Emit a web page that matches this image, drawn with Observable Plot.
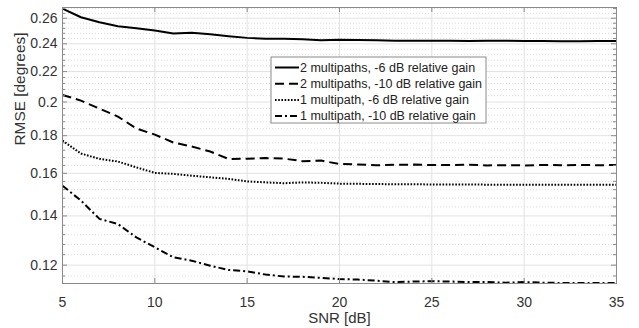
<!DOCTYPE html>
<html><head><meta charset="utf-8">
<script src="https://cdn.jsdelivr.net/npm/d3@7"></script>
<script src="https://cdn.jsdelivr.net/npm/@observablehq/plot@0.6"></script>
<style>
body{margin:0;background:#fff}
#chart{width:639px;height:328px}
</style>
</head><body><div id="chart"></div>
<script>
const snr = [5,6,7,8,9,10,11,12,13,14,15,16,17,18,19,20,21,22,23,24,25,26,27,28,29,30,31,32,33,34,35];
const seriesNames = [
  "2 multipaths, -6 dB relative gain",
  "2 multipaths, -10 dB relative gain",
  "1 multipath, -6 dB relative gain",
  "1 multipath, -10 dB relative gain"
];
const rmse2m6 = [0.2680,0.2608,0.2568,0.2536,0.2520,0.2502,0.2478,0.2484,0.2473,0.2458,0.2445,0.2438,0.2438,0.2435,0.2427,0.2430,0.2428,0.2427,0.2424,0.2424,0.2423,0.2423,0.2421,0.2423,0.2423,0.2421,0.2421,0.2419,0.2419,0.2421,0.2421];
const rmse2m10 = [0.2045,0.2009,0.1959,0.1911,0.1841,0.1806,0.1762,0.1740,0.1713,0.1673,0.1675,0.1678,0.1675,0.1662,0.1665,0.1647,0.1645,0.1641,0.1643,0.1644,0.1642,0.1642,0.1643,0.1640,0.1641,0.1640,0.1642,0.1641,0.1642,0.1641,0.1642];
const rmse1m6 = [0.1772,0.1702,0.1674,0.1660,0.1630,0.1602,0.1597,0.1588,0.1580,0.1572,0.1560,0.1555,0.1551,0.1555,0.1553,0.1549,0.1548,0.1547,0.1546,0.1546,0.1545,0.1545,0.1545,0.1544,0.1544,0.1544,0.1544,0.1543,0.1543,0.1543,0.1543];
const rmse1m10 = [0.1539,0.1469,0.1387,0.1365,0.1309,0.1269,0.1230,0.1217,0.1198,0.1182,0.1177,0.1165,0.1158,0.1157,0.1153,0.1149,0.1147,0.1143,0.1138,0.1140,0.1141,0.1140,0.1138,0.1138,0.1136,0.1138,0.1136,0.1135,0.1135,0.1135,0.1135];

const xTicks = [5,10,15,20,25,30,35];
const xTickLabels = ["5","10","15","20","25","30","35"];
const yTicks = [0.12,0.14,0.16,0.18,0.2,0.22,0.24,0.26];
const yTickLabels = ["0.12","0.14","0.16","0.18","0.2","0.22","0.24","0.26"];
const yMinorTicks = [0.116,0.124,0.128,0.132,0.136,0.144,0.148,0.152,0.156,0.164,0.168,0.172,0.176,0.184,0.188,0.192,0.196,0.204,0.208,0.212,0.216,0.224,0.228,0.232,0.236,0.244,0.248,0.252,0.256,0.264,0.268];
const xLabel = "SNR [dB]";
const yLabel = "RMSE [degrees]";

// styles
const lineDashes = [null, "9,5", "1.6,1.6", "7,3,2,3"];
const W = 639, H = 328, mL = 62, mR = 23, mT = 7, mB = 45;
const plotW = W - mL - mR, plotH = H - mT - mB;
const frameColor = "#8a8a8a";

const seriesValues = [rmse2m6, rmse2m10, rmse1m6, rmse1m10];
const rows = seriesValues.flatMap((vals, k) => snr.map((x, i) => ({x, y: vals[i], k})));

const lineMarks = seriesValues.map((vals, k) =>
  Plot.line(rows.filter(r => r.k === k), {x: "x", y: "y", stroke: "#000", strokeWidth: 2, strokeDasharray: lineDashes[k], strokeLinecap: "butt"})
);

const chart = Plot.plot({
  width: W, height: H,
  marginLeft: mL, marginRight: mR, marginTop: mT, marginBottom: mB,
  style: {fontFamily: "'Liberation Sans', Arial, sans-serif", fontSize: "14px", color: "#333", background: "#fff"},
  x: {domain: [5, 35], ticks: xTicks, tickFormat: d => xTickLabels[xTicks.indexOf(d)], tickSize: 0, tickPadding: 14, label: null},
  y: {type: "log", domain: [0.1133, 0.2689], ticks: yTicks, tickFormat: d => yTickLabels[yTicks.indexOf(d)], tickSize: 0, tickPadding: 5, label: null},
  marks: [
    Plot.ruleY(yMinorTicks, {y: d => d, stroke: "#dcdcdc", strokeDasharray: "1,2"}),
    Plot.ruleY(yTicks, {y: d => d, stroke: "#e2e2e2"}),
    Plot.ruleX(xTicks.slice(1, -1), {x: d => d, stroke: "#e2e2e2"}),
    ...lineMarks,
    Plot.tickY(yMinorTicks, {y: d => d, stroke: frameColor, insetRight: plotW - 3}),
    Plot.tickY(yMinorTicks, {y: d => d, stroke: frameColor, insetLeft: plotW - 3}),
    Plot.tickY(yTicks, {y: d => d, stroke: frameColor, insetRight: plotW - 5}),
    Plot.tickY(yTicks, {y: d => d, stroke: frameColor, insetLeft: plotW - 5}),
    Plot.tickX(xTicks, {x: d => d, stroke: frameColor, insetTop: plotH - 5}),
    Plot.tickX(xTicks, {x: d => d, stroke: frameColor, insetBottom: plotH - 5}),
    Plot.frame({stroke: frameColor}),
    Plot.text([yLabel], {frameAnchor: "left", dx: -42, rotate: -90, fontSize: 15.4, fill: "#333"}),
    Plot.text([xLabel], {frameAnchor: "bottom", dy: 39.5, fontSize: 15, fill: "#333"})
  ]
});

document.getElementById("chart").appendChild(chart);

// legend
const svg = d3.select(chart);
const lg = svg.append("g").attr("transform", "translate(271,57)")
  .style("font-family", "'Liberation Sans', Arial, sans-serif").style("font-size", "12.5px");
lg.append("rect").attr("width", 215).attr("height", 66).attr("fill", "#fff").attr("stroke", frameColor);
seriesNames.forEach((name, k) => {
  const yy = 10.5 + k * 16.2;
  lg.append("line").attr("x1", 4).attr("x2", 28).attr("y1", yy).attr("y2", yy)
    .attr("stroke", "#000").attr("stroke-width", 2).attr("stroke-dasharray", lineDashes[k]);
  lg.append("text").attr("x", 29).attr("y", yy).attr("dy", "0.35em")
    .attr("text-anchor", "start").attr("fill", "#222").text(name);
});
</script>
</body></html>
